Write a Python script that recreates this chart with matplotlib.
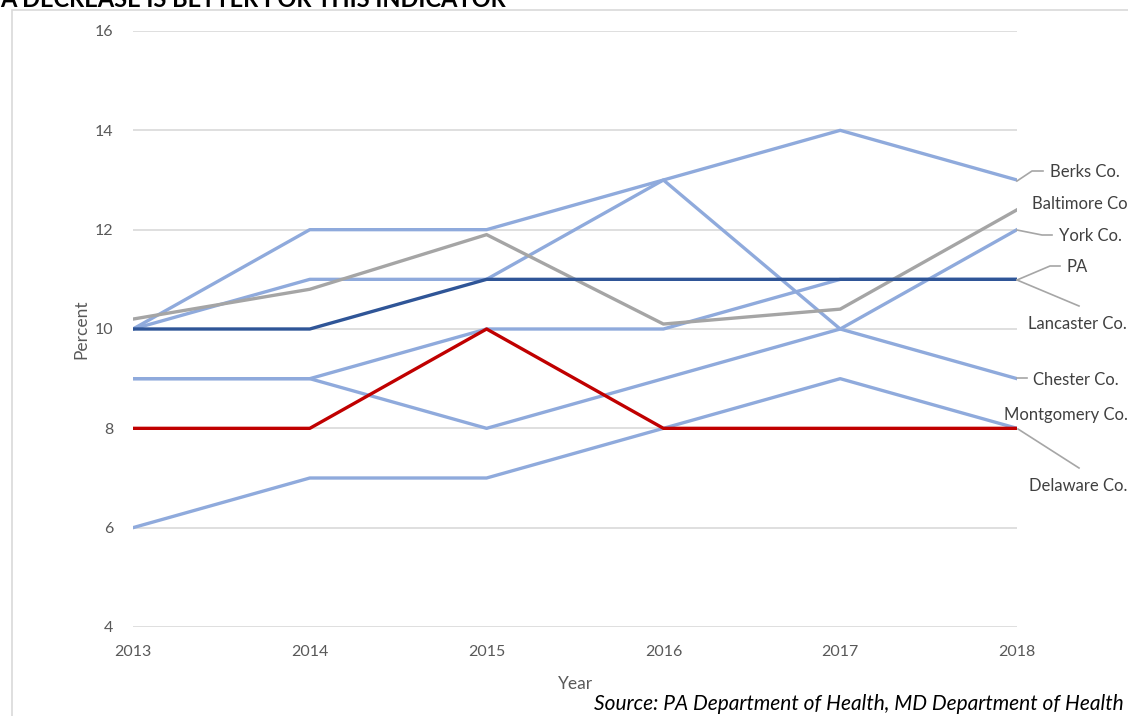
import matplotlib
matplotlib.use("Agg")
import matplotlib.pyplot as plt
from matplotlib.lines import Line2D
from matplotlib.patches import Rectangle

plt.rcParams['font.family'] = ['Lato', 'DejaVu Sans']

# data
years = [2013, 2014, 2015, 2016, 2017, 2018]
berks = [10, 12, 12, 13, 14, 13]
chester = [10, 11, 11, 13, 10, 9]
lancaster = [9, 9, 10, 10, 11, 11]
york = [9, 9, 8, 9, 10, 12]
delaware = [6, 7, 7, 8, 9, 8]
baltimore = [10.2, 10.8, 11.9, 10.1, 10.4, 12.4]
pa = [10, 10, 11, 11, 11, 11]
montgomery = [8, 8, 10, 8, 8, 8]
yticks = [4, 6, 8, 10, 12, 14, 16]

LIGHT = '#8faadc'
DARK = '#2f5597'
GRAY = '#a5a5a5'
RED = '#c00000'
TXT = '#595959'

fig = plt.figure(figsize=(11.28, 7.16), dpi=100)
W, H = 1128, 716

# chart border (partly off-canvas)
fig.patches.append(Rectangle((12 / W, -0.1), 1.2, 1 - 10 / H + 0.1, transform=fig.transFigure,
                             fill=False, edgecolor='#d9d9d9', lw=1.2))

ax = fig.add_axes([133 / W, 1 - 627 / H, (1017 - 133) / W, (627 - 31) / H])

for s in [berks, chester, lancaster, york, delaware]:
    ax.plot(years, s, color=LIGHT, lw=2.4, zorder=3)
ax.plot(years, baltimore, color=GRAY, lw=2.4, zorder=3)
ax.plot(years, pa, color=DARK, lw=2.4, zorder=4)
ax.plot(years, montgomery, color=RED, lw=2.4, zorder=5)

ax.set_xlim(2013, 2018)
ax.set_ylim(4, 16)
ax.set_yticks(yticks)
ax.set_xticks(years)
ax.grid(axis='y', color='#d9d9d9', lw=1.2)
ax.set_axisbelow(True)
for sp in ax.spines.values():
    sp.set_visible(False)
ax.tick_params(length=0, labelsize=11.5, colors=TXT, pad=14)
ax.tick_params(axis='x', pad=13)
ax.set_ylabel('Percent', fontsize=12.5, color=TXT)
ax.yaxis.set_label_coords(-(133 - 89) / (1017 - 133), 0.5)
ax.set_xlabel('Year', fontsize=12.5, color=TXT)
ax.xaxis.set_label_coords((575 - 133) / (1017 - 133), -(676 - 627) / (627 - 31))


def px(x, y):
    return (x / W, 1 - y / H)


# leader lines (pixel paths)
leaders = [
    [(1017, 181), (1032, 171), (1043, 171)],
    [(1017, 230), (1042, 235), (1052, 235)],
    [(1017, 280), (1050, 266), (1060, 266)],
    [(1017, 280), (1079, 306)],
    [(1017, 378), (1027, 378)],
    [(1018, 429), (1079, 468)],
]
for path in leaders:
    xs = [p[0] / W for p in path]
    ys = [1 - p[1] / H for p in path]
    fig.add_artist(Line2D(xs, ys, color='#a6a6a6', lw=1.2, transform=fig.transFigure))

labels = [
    ('Berks Co.', 1050, 172),
    ('Baltimore Co.', 1032, 204),
    ('York Co.', 1059, 236),
    ('PA', 1067, 267),
    ('Lancaster Co.', 1028, 324),
    ('Chester Co.', 1033, 380),
    ('Montgomery Co.', 1004, 415),
    ('Delaware Co.', 1029, 486),
]
for t, x, y in labels:
    fig.text(*px(x, y), t, fontsize=12, color='#404040', ha='left', va='center')

fig.text(*px(0, 7), 'A DECREASE IS BETTER FOR THIS INDICATOR', fontsize=17,
         fontweight='bold', color='black', ha='left', va='baseline')
fig.text(*px(1124, 704), 'Source: PA Department of Health, MD Department of Health',
         fontsize=15, style='italic', color='black', ha='right', va='center')

fig.savefig('out.png', dpi=100)
